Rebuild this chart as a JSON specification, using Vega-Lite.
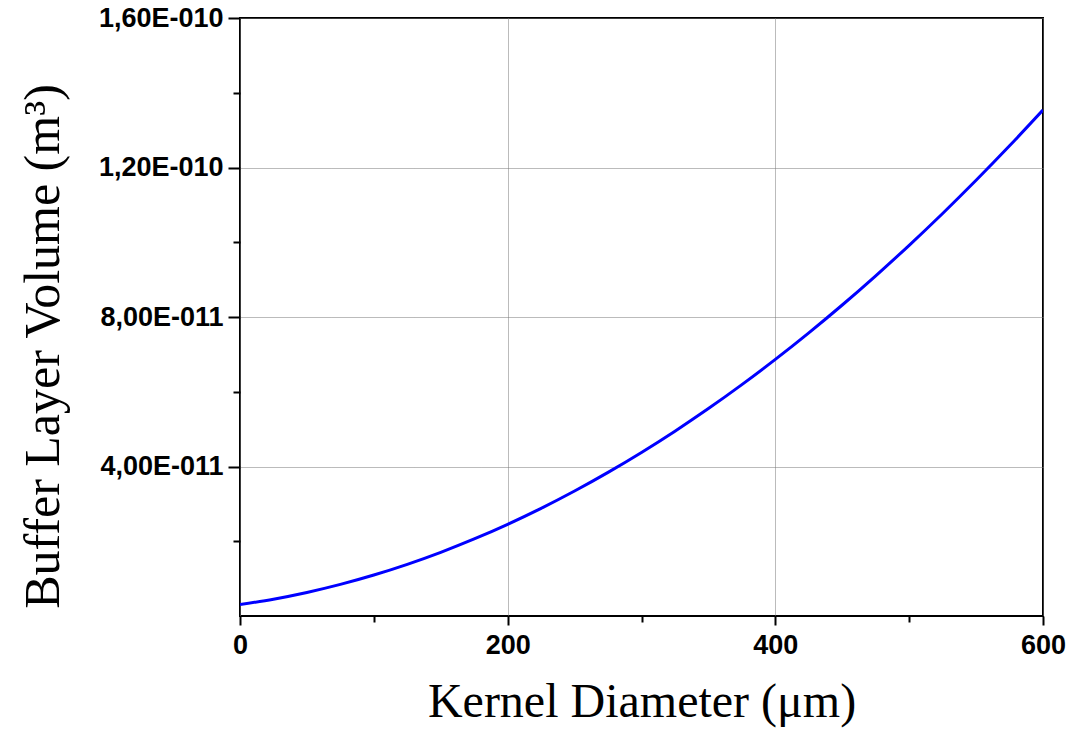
{
  "$schema": "https://vega.github.io/schema/vega-lite/v6.json",
  "width": 803,
  "height": 598,
  "autosize": {"type": "none"},
  "padding": {"left": 240, "top": 18, "right": 34, "bottom": 119},
  "background": "white",
  "config": {
    "view": {"stroke": "black", "strokeWidth": 2},
    "axis": {"domain": false}
  },
  "data": {
    "values": [
      {"d": 0, "v": 3.0536e-12},
      {"d": 25, "v": 4.5027e-12},
      {"d": 50, "v": 6.3052e-12},
      {"d": 75, "v": 8.4611e-12},
      {"d": 100, "v": 1.09704e-11},
      {"d": 125, "v": 1.38331e-11},
      {"d": 150, "v": 1.70494e-11},
      {"d": 175, "v": 2.06191e-11},
      {"d": 200, "v": 2.45421e-11},
      {"d": 225, "v": 2.88186e-11},
      {"d": 250, "v": 3.34486e-11},
      {"d": 275, "v": 3.8432e-11},
      {"d": 300, "v": 4.37687e-11},
      {"d": 325, "v": 4.94589e-11},
      {"d": 350, "v": 5.55025e-11},
      {"d": 375, "v": 6.18996e-11},
      {"d": 400, "v": 6.86501e-11},
      {"d": 425, "v": 7.5754e-11},
      {"d": 450, "v": 8.32114e-11},
      {"d": 475, "v": 9.10222e-11},
      {"d": 500, "v": 9.91864e-11},
      {"d": 525, "v": 1.07704e-10},
      {"d": 550, "v": 1.16575e-10},
      {"d": 575, "v": 1.258e-10},
      {"d": 600, "v": 1.35378e-10}
    ]
  },
  "mark": {"type": "line", "color": "#0000FF", "strokeWidth": 3, "interpolate": "monotone", "clip": true},
  "encoding": {
    "x": {
      "field": "d",
      "type": "quantitative",
      "scale": {"domain": [0, 600], "nice": false, "zero": false},
      "axis": {
        "title": "Kernel Diameter (μm)",
        "titleFont": "Liberation Serif",
        "titleFontWeight": "normal",
        "titleFontSize": 48,
        "titleColor": "black",
        "titlePadding": 20,
        "values": [0, 100, 200, 300, 400, 500, 600],
        "labelExpr": "datum.value % 200 == 0 ? datum.value : ''",
        "labelFont": "Liberation Sans",
        "labelFontWeight": "bold",
        "labelFontSize": 27,
        "labelColor": "black",
        "labelPadding": 7,
        "labelFlush": false,
        "labelOverlap": false,
        "tickColor": "black",
        "tickWidth": 2,
        "tickSize": {"condition": {"test": "datum.value % 200 == 0", "value": 9}, "value": 6},
        "grid": true,
        "gridColor": "#777777",
        "gridDash": [1, 1],
        "gridWidth": 1,
        "gridOpacity": {"condition": {"test": "datum.value % 200 == 0", "value": 1}, "value": 0}
      }
    },
    "y": {
      "field": "v",
      "type": "quantitative",
      "scale": {"domain": [0, 1.6e-10], "nice": false, "zero": false},
      "axis": {
        "title": "Buffer Layer Volume (m³)",
        "titleFont": "Liberation Serif",
        "titleFontWeight": "normal",
        "titleFontSize": 50,
        "titleColor": "black",
        "titlePadding": 30,
        "titleY": 328,
        "values": [2e-11, 4e-11, 6e-11, 8e-11, 1e-10, 1.2e-10, 1.4e-10, 1.6e-10],
        "labelExpr": "round(datum.value*1e11)==4 ? '4,00E-011' : round(datum.value*1e11)==8 ? '8,00E-011' : round(datum.value*1e11)==12 ? '1,20E-010' : round(datum.value*1e11)==16 ? '1,60E-010' : ''",
        "labelFont": "Liberation Sans",
        "labelFontWeight": "bold",
        "labelFontSize": 27,
        "labelColor": "black",
        "labelPadding": 5,
        "labelFlush": false,
        "labelOverlap": false,
        "tickColor": "black",
        "tickWidth": 2,
        "tickSize": {"condition": {"test": "round(datum.value*1e11) % 4 == 0", "value": 12}, "value": 7},
        "grid": true,
        "gridColor": "#777777",
        "gridDash": [1, 1],
        "gridWidth": 1,
        "gridOpacity": {"condition": {"test": "round(datum.value*1e11) % 4 == 0", "value": 1}, "value": 0}
      }
    }
  }
}
